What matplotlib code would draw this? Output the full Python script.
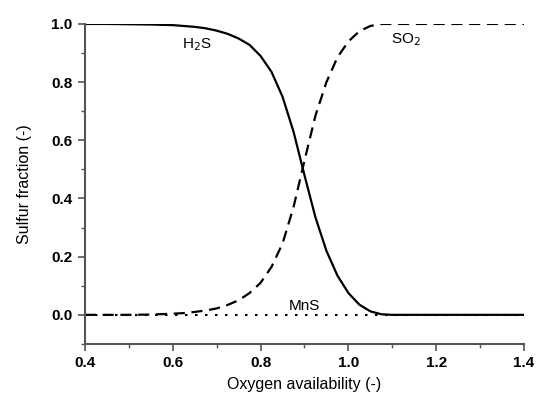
import numpy as np
import matplotlib
matplotlib.use("Agg")
import matplotlib.pyplot as plt

# values
oxygen = [0.40, 0.45, 0.50, 0.55, 0.60, 0.625, 0.65, 0.675, 0.70, 0.725, 0.75, 0.775,
          0.80, 0.825, 0.85, 0.875, 0.90, 0.925, 0.95, 0.975, 1.00, 1.025, 1.05,
          1.075, 1.10, 1.20, 1.30, 1.40]
h2s = [1.0, 1.0, 0.999, 0.998, 0.996, 0.993, 0.99, 0.985, 0.977, 0.966, 0.95, 0.928,
       0.89, 0.835, 0.75, 0.63, 0.48, 0.335, 0.22, 0.135, 0.075, 0.035, 0.012,
       0.002, 0.0, 0.0, 0.0, 0.0]
so2 = [0.0, 0.0, 0.0, 0.001, 0.004, 0.006, 0.01, 0.015, 0.022, 0.034, 0.05, 0.075,
       0.11, 0.165, 0.245, 0.37, 0.53, 0.685, 0.80, 0.885, 0.94, 0.975, 0.993,
       1.0, 1.0, 1.0, 1.0, 1.0]
mns_x = [0.40, 1.40]
mns = [0.0, 0.0]

xticks = [0.4, 0.6, 0.8, 1.0, 1.2, 1.4]
yticks = [0.0, 0.2, 0.4, 0.6, 0.8, 1.0]

plt.rcParams['font.family'] = ['Liberation Sans', 'DejaVu Sans']

fig = plt.figure(figsize=(5.37, 3.99), dpi=100)
ax = fig.add_axes([0.158, 0.138, 0.818, 0.802])

ax.plot(mns_x, mns, color='black', lw=1.5, linestyle=(0, (1.2, 3.6)))
ax.plot(oxygen, so2, color='black', lw=1.6, linestyle=(0, (5, 3)))
ax.plot(oxygen, h2s, color='black', lw=1.6)

ax.text(0.655, 0.93, 'H$_2$S', fontsize=11, ha='center', va='center')
ax.text(1.13, 0.945, 'SO$_2$', fontsize=11, ha='center', va='center')
ax.text(0.90, 0.03, 'MnS', fontsize=11, ha='center', va='center')

ax.set_xlim(0.4, 1.4)
ax.set_ylim(-0.1, 1.0)
ax.set_xticks(xticks)
ax.set_yticks(yticks)
ax.set_xticks(np.arange(0.5, 1.4, 0.2), minor=True)
ax.set_yticks([-0.1, 0.1, 0.3, 0.5, 0.7, 0.9], minor=True)
ax.set_xticklabels(['%.1f' % v for v in xticks], fontweight='bold', fontsize=11)
ax.set_yticklabels(['%.1f' % v for v in yticks], fontweight='bold', fontsize=11)

ax.set_xlabel('Oxygen availability (-)', fontsize=11.5, labelpad=5)
ax.set_ylabel('Sulfur fraction (-)', fontsize=11.5, labelpad=14)

for side in ['top', 'right']:
    ax.spines[side].set_visible(False)
for side in ['left', 'bottom']:
    ax.spines[side].set_color('#555555')
    ax.spines[side].set_linewidth(1.5)
ax.spines['left'].set_bounds(-0.1, 1.0)
ax.tick_params(which='major', direction='out', length=5, width=1.2, color='#555555', pad=4)
ax.tick_params(which='minor', direction='out', length=3, width=1.0, color='#555555')

fig.savefig('out.png', dpi=100)
